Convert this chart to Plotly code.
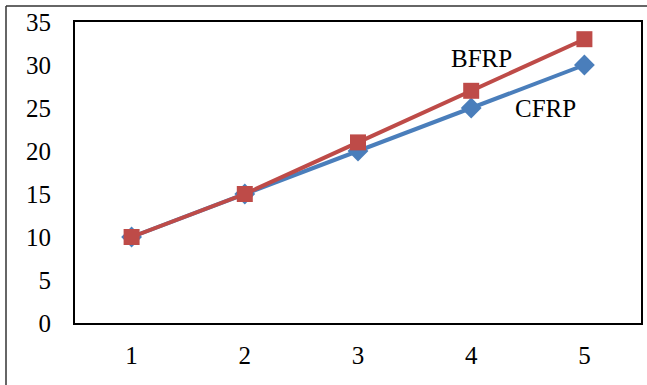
import plotly.graph_objects as go

categories = [1, 2, 3, 4, 5]
cfrp = [10, 15, 20, 25, 30]
bfrp = [10, 15, 21, 27, 33]
y_ticks = [0, 5, 10, 15, 20, 25, 30, 35]

W, H = 647, 385
L, R, T, B = 75, 6, 22, 62
pw, ph = W - L - R, H - T - B

fig = go.Figure()
fig.add_trace(go.Scatter(x=categories, y=cfrp, mode="lines+markers", name="CFRP",
                         line=dict(color="#4A7EBB", width=4),
                         marker=dict(symbol="diamond", size=16, color="#4A7EBB")))
fig.add_trace(go.Scatter(x=categories, y=bfrp, mode="lines+markers", name="BFRP",
                         line=dict(color="#BE4B48", width=4),
                         marker=dict(symbol="square", size=16, color="#BE4B48")))

font = dict(family="Liberation Serif, Times New Roman, serif", size=25, color="black")

fig.add_annotation(x=4.09, y=30.8, text="BFRP", showarrow=False, font=font)
fig.add_annotation(x=4.66, y=25.0, text="CFRP", showarrow=False, font=font)

# outer chart border (left and top edges only visible)
fig.add_shape(type="line", xref="paper", yref="paper",
              x0=(6 - L) / pw, x1=(6 - L) / pw,
              y0=(H - 400 - B) / ph, y1=(H - 6 - B) / ph,
              line=dict(color="#333333", width=1.5), layer="below")
fig.add_shape(type="line", xref="paper", yref="paper",
              x0=(6 - L) / pw, x1=(647 - L) / pw,
              y0=(H - 6 - B) / ph, y1=(H - 6 - B) / ph,
              line=dict(color="#333333", width=1.5), layer="below")

fig.update_layout(
    width=W, height=H, margin=dict(l=L, r=R, t=T, b=B),
    paper_bgcolor="white", plot_bgcolor="white", showlegend=False,
    font=font,
    xaxis=dict(range=[0.5, 5.5], tickvals=categories, ticktext=[str(c) for c in categories],
               showgrid=False, zeroline=False, showline=True, linecolor="black",
               linewidth=2, mirror=True, ticks="outside", ticklen=9,
               tickcolor="rgba(0,0,0,0)", automargin=False),
    yaxis=dict(range=[0, 35], tickvals=y_ticks, showgrid=False, zeroline=False,
               showline=True, linecolor="black", linewidth=2, mirror=True,
               ticks="outside", ticklen=17, tickcolor="rgba(0,0,0,0)", automargin=False),
)

fig.write_html("out.html", config={"displayModeBar": False},
               post_script="document.body.style.margin='0';document.body.style.overflow='hidden';")
